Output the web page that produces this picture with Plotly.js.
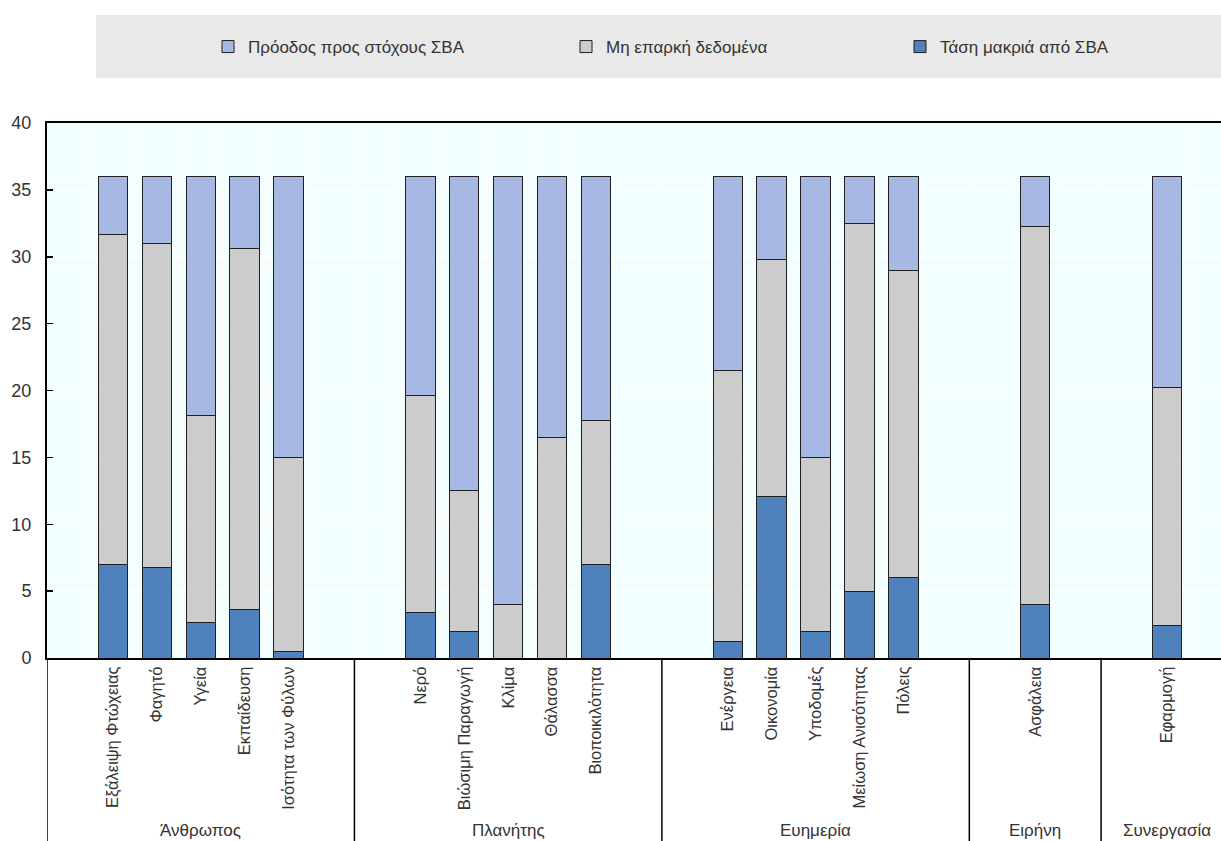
<!DOCTYPE html>
<html>
<head>
<meta charset="utf-8">
<script src="https://cdn.plot.ly/plotly-3.0.1.min.js"></script>
<style>html,body{margin:0;padding:0;background:#fff;}#chart{width:1221px;height:841px;}</style>
</head>
<body>
<div id="chart"></div>
<script>
// ---- data ----
const groups = ['Άνθρωπος', 'Πλανήτης', 'Ευημερία', 'Ειρήνη', 'Συνεργασία'];
const groupItems = [
  ['Εξάλειψη Φτώχειας', 'Φαγητό', 'Υγεία', 'Εκπαίδευση', 'Ισότητα των Φύλων'],
  ['Νερό', 'Βιώσιμη Παραγωγή', 'Κλίμα', 'Θάλασσα', 'Βιοποικιλότητα'],
  ['Ενέργεια', 'Οικονομία', 'Υποδομές', 'Μείωση Ανισότητας', 'Πόλεις'],
  ['Ασφάλεια'],
  ['Εφαρμογή']
];
const seriesNames = ['Πρόοδος προς στόχους ΣΒΑ', 'Μη επαρκή δεδομένα', 'Τάση μακριά από ΣΒΑ'];
const trendAway   = [7.0, 6.75, 2.65, 3.6, 0.5,   3.4, 2.0, 0, 0, 7.0,   1.2, 12.05, 2.0, 5.0, 6.0,   4.0,   2.4];
const noData      = [24.65, 24.25, 15.45, 27.0, 14.5,   16.2, 10.5, 4.0, 16.5, 10.75,   20.3, 17.75, 13.0, 27.5, 23.0,   28.25,   17.8];
const progress    = [4.35, 5.0, 17.9, 5.4, 21.0,   16.4, 23.5, 32.0, 19.5, 18.25,   14.5, 6.2, 21.0, 3.5, 7.0,   3.75,   15.8];
const yTicks = [0, 5, 10, 15, 20, 25, 30, 35, 40];

// ---- layout of category slots (one empty slot at each side of a group) ----
const categories = [];
const xs = [];
const groupCenters = [];
const groupBounds = [-0.5];
let slot = 0;
groupItems.forEach(items => {
  slot += 1;
  const first = slot;
  items.forEach(name => { categories.push(name); xs.push(slot); slot += 1; });
  groupCenters.push((first + slot - 1) / 2);
  slot += 1;
  groupBounds.push(slot - 0.5);
});

const colors = ['#A7B9E3', '#CCCCCC', '#4F81BD'];
const lineCol = '#1f1f1f';
const FONT = '"Liberation Sans", Arial, sans-serif';

function bar(y, i, legendId) {
  return {
    type: 'bar', x: xs, y: y, name: seriesNames[i], width: 0.67,
    marker: {color: colors[i], line: {color: lineCol, width: 1}},
    legend: legendId, hoverinfo: 'x+y+name'
  };
}
const traces = [
  bar(trendAway, 2, 'legend3'),
  bar(noData, 1, 'legend2'),
  bar(progress, 0, 'legend')
];

const W = 1221, H = 841, L = 47, R = 0, T = 123, B = 183;
const pw = W - L - R, ph = H - T - B;
const px2x = p => (p - L) / pw;
const py2y = p => (H - B - p) / ph;

const shapes = [{
  type: 'rect', xref: 'paper', yref: 'paper', layer: 'below',
  x0: px2x(96), x1: 1.02, y0: py2y(78), y1: py2y(15),
  fillcolor: '#E9E9E9', line: {width: 0}
}];
groupBounds.forEach(b => shapes.push({
  type: 'line', xref: 'x', yref: 'paper', x0: b, x1: b, y0: 0, y1: py2y(H + 5),
  line: {color: '#000', width: 1.5}
}));

const annotations = groups.map((g, i) => ({
  text: g, x: groupCenters[i], xref: 'x', y: py2y(831), yref: 'paper',
  xanchor: 'center', yanchor: 'middle', showarrow: false,
  font: {family: FONT, size: 17, color: '#333'}
}));

const legFont = {family: FONT, size: 17, color: '#333'};
function leg(pxLeft) {
  return {x: px2x(pxLeft), xanchor: 'left', y: py2y(47), yanchor: 'middle',
          orientation: 'h', bgcolor: 'rgba(0,0,0,0)', font: legFont, itemwidth: 30};
}

const layout = {
  width: W, height: H,
  margin: {l: L, r: R, t: T, b: B, pad: 0},
  paper_bgcolor: '#fff', plot_bgcolor: '#F3FEFE',
  barmode: 'stack', bargap: 0,
  showlegend: true,
  legend: leg(208), legend2: leg(566), legend3: leg(900),
  xaxis: {
    range: [-0.5, 26.23], tickmode: 'array', tickvals: xs, ticktext: categories,
    tickangle: -90, ticks: '', showgrid: false, zeroline: false,
    showline: true, linecolor: '#000', linewidth: 2, mirror: true,
    tickfont: {family: FONT, size: 16.5, color: '#333'},
    minor: {tick0: 0.5, dtick: 1, showgrid: true, gridcolor: '#ffffff', gridwidth: 1, ticklen: 0}
  },
  yaxis: {
    range: [0, 40], tickmode: 'array', tickvals: yTicks,
    ticks: 'inside', ticklen: 6, tickcolor: '#000', tickwidth: 1.5,
    showgrid: true, gridcolor: '#ffffff', gridwidth: 1.5, zeroline: false,
    showline: true, linecolor: '#000', linewidth: 2, mirror: false,
    ticklabelstandoff: 10,
    tickfont: {family: FONT, size: 18, color: '#333'}
  },
  shapes: shapes,
  annotations: annotations
};

Plotly.newPlot('chart', traces, layout, {displayModeBar: false, staticPlot: true});
</script>
</body>
</html>
